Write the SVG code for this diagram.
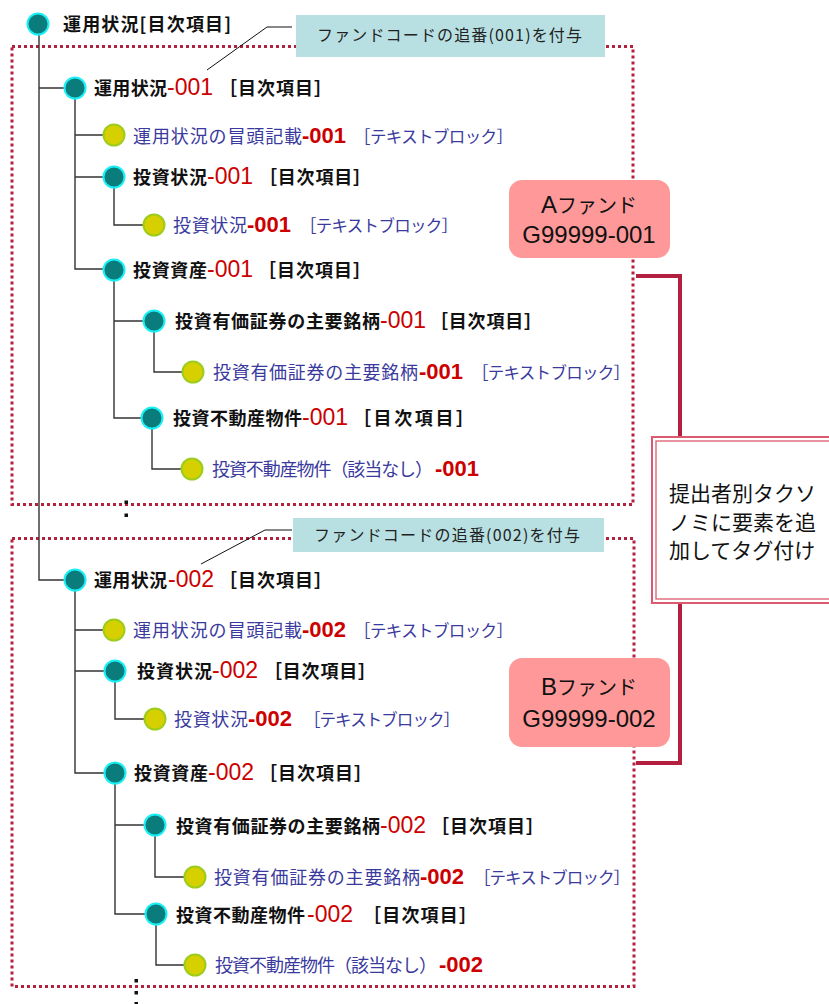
<svg xmlns="http://www.w3.org/2000/svg" width="829" height="1004" viewBox="0 0 829 1004">
<style>
.bg{fill:#ffffff}
.frame{fill:none;stroke:#b3213f;stroke-width:3;stroke-dasharray:3 3}
.call{fill:#b8e0e3}
.callt{font-family:"Noto Sans CJK JP",sans-serif;font-size:16px;fill:#222}
.lead{fill:none;stroke:#111;stroke-width:1}
.con{fill:none;stroke:#333;stroke-width:1.4}
.toc{fill:#0a7c7c;stroke:#19f0f5;stroke-width:2}
.tb{fill:#d6d000;stroke:#9ccc1c;stroke-width:2}
.tn{font-family:"Noto Sans CJK JP",sans-serif;font-weight:bold;font-size:18px;fill:#111}
.tc{font-family:"Liberation Sans",Arial,sans-serif;font-size:23px;fill:#cc0000}
.bn{font-family:"Noto Sans CJK JP",sans-serif;font-size:18px;fill:#3a3a9e}
.bc{font-family:"Liberation Sans",Arial,sans-serif;font-weight:bold;font-size:22px;fill:#cc0000}
.bl{font-family:"Noto Sans CJK JP",sans-serif;font-size:16.5px;fill:#3a3a9e}
.fund{fill:#ff9999}
.fundt{font-family:"Liberation Sans","Noto Sans CJK JP",sans-serif;font-size:24px;fill:#111;text-anchor:middle}
.brk{fill:none;stroke:#b3203f;stroke-width:4}
.tax{fill:#ffffff;stroke:#dc5a6e}
.taxt{font-family:"Noto Sans CJK JP",sans-serif;font-size:21px;fill:#111}
.dot{fill:#111}
</style>
<rect class="bg" x="0" y="0" width="829" height="1004"/>

<g id="frames">
<rect class="frame" x="12" y="46.5" width="621" height="458"/>
<rect class="frame" x="12" y="538.5" width="622" height="448"/>
</g>

<g id="connectors">
<path class="con" d="M39 35V580H64M39 88H64"/>
<path class="con" d="M75 99V269H103M75 135H103M75 177H103"/>
<path class="con" d="M114 188V225H143"/>
<path class="con" d="M114 281V418H141M114 321H143"/>
<path class="con" d="M154 332V372H182"/>
<path class="con" d="M152 429V469H181"/>
<path class="con" d="M75 591V773H104M75 630H103M75 671H104"/>
<path class="con" d="M115 682V719H144"/>
<path class="con" d="M115 784V914H145M115 825H144"/>
<path class="con" d="M155 836V877H184"/>
<path class="con" d="M156 925V965H184"/>
<path class="lead" d="M207 70L267 27H292"/>
<path class="lead" d="M201 564L265 530H292"/>
<path class="brk" d="M636 276H680V438M680 603V763H636"/>
</g>

<g id="callout-001">
<rect class="call" x="296" y="15" width="309" height="42"/>
<text class="callt" x="317" y="41" textLength="265">ファンドコードの追番(001)を付与</text>
</g>
<g id="callout-002">
<rect class="call" x="293" y="518" width="311" height="34"/>
<text class="callt" x="314" y="541" textLength="266">ファンドコードの追番(002)を付与</text>
</g>

<g id="root">
<circle class="toc" cx="38" cy="24" r="10.5"/>
<text class="tn" x="63" y="31" textLength="168">運用状況[目次項目]</text>
</g>

<g id="n-unyo-001">
<circle class="toc" cx="75" cy="88" r="10.5"/>
<text class="tn" x="94" y="95" textLength="73">運用状況</text>
<text class="tc" x="167" y="95">-001</text>
<text class="tn" x="219" y="95" textLength="113">［目次項目］</text>
</g>
<g id="n-unyo-boto-001">
<circle class="tb" cx="114" cy="135" r="10.5"/>
<text class="bn" x="133" y="143" textLength="169">運用状況の冒頭記載</text>
<text class="bc" x="302" y="143">-001</text>
<text class="bl" x="354" y="143" textLength="159">［テキストブロック］</text>
</g>
<g id="n-toshi-001">
<circle class="toc" cx="114" cy="177" r="10.5"/>
<text class="tn" x="133" y="184" textLength="74">投資状況</text>
<text class="tc" x="207" y="184">-001</text>
<text class="tn" x="259" y="184" textLength="112">［目次項目］</text>
</g>
<g id="n-toshi-tb-001">
<circle class="tb" cx="154" cy="225" r="10.5"/>
<text class="bn" x="173" y="232" textLength="74">投資状況</text>
<text class="bc" x="247" y="232">-001</text>
<text class="bl" x="300" y="232" textLength="158">［テキストブロック］</text>
</g>
<g id="n-shisan-001">
<circle class="toc" cx="114" cy="270" r="10.5"/>
<text class="tn" x="133" y="277" textLength="74">投資資産</text>
<text class="tc" x="207" y="277">-001</text>
<text class="tn" x="258" y="277" textLength="113">［目次項目］</text>
</g>
<g id="n-yuka-001">
<circle class="toc" cx="154" cy="321" r="10.5"/>
<text class="tn" x="175" y="328" textLength="205">投資有価証券の主要銘柄</text>
<text class="tc" x="380" y="328">-001</text>
<text class="tn" x="430" y="328" textLength="112">［目次項目］</text>
</g>
<g id="n-yuka-tb-001">
<circle class="tb" cx="193" cy="372" r="10.5"/>
<text class="bn" x="213" y="379" textLength="205">投資有価証券の主要銘柄</text>
<text class="bc" x="419" y="379">-001</text>
<text class="bl" x="472" y="379" textLength="158">［テキストブロック］</text>
</g>
<g id="n-fudosan-001">
<circle class="toc" cx="152" cy="418" r="10.5"/>
<text class="tn" x="173" y="425" textLength="129">投資不動産物件</text>
<text class="tc" x="302" y="425">-001</text>
<text class="tn" x="353" y="425" textLength="121">［目次項目］</text>
</g>
<g id="n-fudosan-tb-001">
<circle class="tb" cx="192" cy="469" r="10.5"/>
<text class="bn" x="212" y="476" textLength="221">投資不動産物件（該当なし）</text>
<text class="bc" x="435" y="476">-001</text>
</g>

<g id="n-unyo-002">
<circle class="toc" cx="75" cy="580" r="10.5"/>
<text class="tn" x="94" y="587" textLength="73">運用状況</text>
<text class="tc" x="168" y="587">-002</text>
<text class="tn" x="219" y="587" textLength="113">［目次項目］</text>
</g>
<g id="n-unyo-boto-002">
<circle class="tb" cx="114" cy="630" r="10.5"/>
<text class="bn" x="133" y="637" textLength="169">運用状況の冒頭記載</text>
<text class="bc" x="302" y="637">-002</text>
<text class="bl" x="354" y="637" textLength="159">［テキストブロック］</text>
</g>
<g id="n-toshi-002">
<circle class="toc" cx="115" cy="671" r="10.5"/>
<text class="tn" x="137" y="678" textLength="75">投資状況</text>
<text class="tc" x="212" y="678">-002</text>
<text class="tn" x="264" y="678" textLength="112">［目次項目］</text>
</g>
<g id="n-toshi-tb-002">
<circle class="tb" cx="155" cy="719" r="10.5"/>
<text class="bn" x="174" y="726" textLength="74">投資状況</text>
<text class="bc" x="248" y="726">-002</text>
<text class="bl" x="304" y="726" textLength="156">［テキストブロック］</text>
</g>
<g id="n-shisan-002">
<circle class="toc" cx="115" cy="773" r="10.5"/>
<text class="tn" x="134" y="780" textLength="74">投資資産</text>
<text class="tc" x="208" y="780">-002</text>
<text class="tn" x="259" y="780" textLength="113">［目次項目］</text>
</g>
<g id="n-yuka-002">
<circle class="toc" cx="155" cy="825" r="10.5"/>
<text class="tn" x="176" y="833" textLength="204">投資有価証券の主要銘柄</text>
<text class="tc" x="380" y="833">-002</text>
<text class="tn" x="431" y="833" textLength="113">［目次項目］</text>
</g>
<g id="n-yuka-tb-002">
<circle class="tb" cx="195" cy="877" r="10.5"/>
<text class="bn" x="214" y="884" textLength="206">投資有価証券の主要銘柄</text>
<text class="bc" x="420" y="884">-002</text>
<text class="bl" x="474" y="884" textLength="156">［テキストブロック］</text>
</g>
<g id="n-fudosan-002">
<circle class="toc" cx="156" cy="914" r="10.5"/>
<text class="tn" x="176" y="922" textLength="129">投資不動産物件</text>
<text class="tc" x="307" y="922">-002</text>
<text class="tn" x="363" y="922" textLength="114">［目次項目］</text>
</g>
<g id="n-fudosan-tb-002">
<circle class="tb" cx="195" cy="965" r="10.5"/>
<text class="bn" x="215" y="972" textLength="222">投資不動産物件（該当なし）</text>
<text class="bc" x="439" y="972">-002</text>
</g>

<g id="fund-a">
<rect class="fund" x="509" y="180" width="161" height="78" rx="13"/>
<text class="fundt" x="589" y="213">A<tspan font-size="20">ファンド</tspan></text>
<text class="fundt" x="589" y="243">G99999-001</text>
</g>
<g id="fund-b">
<rect class="fund" x="509" y="658" width="161" height="89" rx="13"/>
<text class="fundt" x="589" y="695">B<tspan font-size="20">ファンド</tspan></text>
<text class="fundt" x="589" y="727">G99999-002</text>
</g>

<g id="taxonomy-note">
<rect class="tax" x="652" y="437" width="200" height="166" stroke-width="2"/>
<rect class="tax" x="656" y="441" width="200" height="158" stroke-width="1.3"/>
<text class="taxt" x="669" y="501">提出者別タクソ</text>
<text class="taxt" x="669" y="530">ノミに要素を追</text>
<text class="taxt" x="669" y="558">加してタグ付け</text>
</g>

<g id="ellipsis">
<rect class="dot" x="124.5" y="500.5" width="3.5" height="3.5"/>
<rect class="dot" x="124.5" y="513.5" width="3.5" height="3.5"/>
<rect class="dot" x="134.5" y="979" width="3.5" height="3.5"/>
<rect class="dot" x="134.5" y="991" width="3.5" height="3.5"/>
<rect class="dot" x="134.5" y="1002" width="3.5" height="2"/>
</g>
</svg>
